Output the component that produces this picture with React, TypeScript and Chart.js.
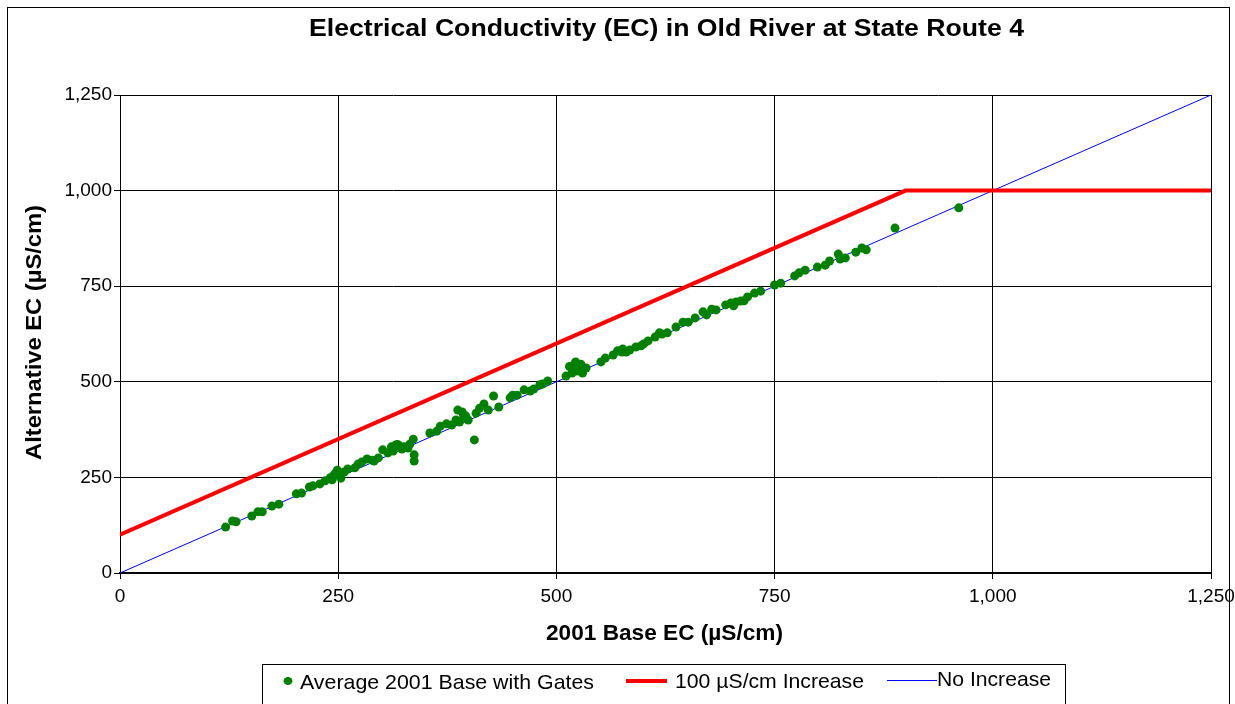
import React, { useEffect, useRef } from "react";
import { Chart, registerables } from "chart.js";
Chart.register(...registerables);

const chartTitle = "Electrical Conductivity (EC) in Old River at State Route 4";
const xAxisTitle = "2001 Base EC (µS/cm)";
const yAxisTitle = "Alternative EC (µS/cm)";
const seriesNames = ["Average 2001 Base with Gates", "100 µS/cm Increase", "No Increase"];

const baseEC = [
  121, 129, 133, 151, 158, 163, 174, 182, 202, 208, 217, 221, 229, 235, 241, 245, 249, 252, 257, 261,
  269, 273, 277, 283, 289, 291, 296, 301, 307, 313, 316, 320, 323, 325, 330, 332, 336, 337, 337, 355,
  363, 367, 374, 380, 385, 387, 392, 396, 399, 406, 408, 412, 417, 422, 428, 434, 447, 450, 455, 463,
  470, 474, 481, 484, 490, 511, 518, 520, 522, 525, 527, 530, 534, 551, 556, 565, 570, 576, 580, 584,
  591, 600, 605, 613, 618, 621, 627, 637, 645, 651, 659, 668, 672, 678, 683, 694, 700, 706, 711, 719,
  727, 734, 750, 757, 773, 778, 785, 799, 808, 813, 823, 825, 831, 843, 850, 855, 888, 961,
  247, 253, 243, 311, 318, 394, 389, 515, 524, 528, 575, 597, 703, 715
];
const altEC = [
  120, 136, 134, 149, 160, 160, 175, 180, 207, 209, 225, 228, 233, 241, 249, 256, 269, 259, 264, 272,
  275, 285, 290, 298, 295, 293, 301, 322, 314, 319, 335, 332, 324, 330, 327, 337, 350, 309, 293, 366,
  371, 384, 390, 387, 400, 426, 421, 411, 400, 348, 418, 431, 442, 426, 463, 434, 458, 465, 465, 479,
  476, 481, 492, 494, 502, 515, 523, 544, 552, 536, 531, 523, 536, 552, 562, 570, 581, 586, 578, 583,
  591, 599, 607, 617, 628, 625, 628, 643, 656, 656, 667, 683, 675, 690, 688, 701, 706, 709, 711, 722,
  732, 737, 753, 758, 777, 785, 792, 800, 805, 816, 834, 821, 824, 839, 850, 845, 902, 955,
  262, 248, 244, 330, 336, 410, 395, 540, 528, 546, 578, 594, 699, 712
];
const increaseX = [0, 900, 1250];
const increaseY = [100, 1000, 1000];
const noIncreaseX = [0, 1250];
const noIncreaseY = [0, 1250];
const axisMin = 0;
const axisMax = 1250;
const tickStep = 250;

function stretchText(
  ctx: CanvasRenderingContext2D,
  text: string,
  x: number,
  y: number,
  font: string,
  width: number,
  align: "center" | "left",
  rotate = false
) {
  ctx.save();
  ctx.font = font;
  const w = ctx.measureText(text).width;
  ctx.translate(x, y);
  if (rotate) ctx.rotate(-Math.PI / 2);
  ctx.scale(width / w, 1);
  ctx.textAlign = align;
  ctx.textBaseline = "middle";
  ctx.fillText(text, 0, 0);
  ctx.restore();
}

export default function App() {
  const ref = useRef<HTMLCanvasElement | null>(null);
  useEffect(() => {
    document.body.style.margin = "0";
    const canvas = ref.current!;
    const font = "Arial, 'Liberation Sans', sans-serif";
    const decor = {
      id: "decor",
      afterDraw(chart: any) {
        const ctx = chart.ctx as CanvasRenderingContext2D;
        ctx.save();
        ctx.strokeStyle = "#000";
        ctx.lineWidth = 1;
        ctx.strokeRect(7.5, 7.5, 1222, 720);
        ctx.fillStyle = "#000";
        stretchText(ctx, chartTitle, 666.5, 29, `bold 24px ${font}`, 715, "center");
        stretchText(ctx, xAxisTitle, 664.5, 634, `bold 22px ${font}`, 237, "center");
        stretchText(ctx, yAxisTitle, 35, 332.5, `bold 22px ${font}`, 255, "center", true);
        // legend
        ctx.strokeStyle = "#000";
        ctx.lineWidth = 1;
        ctx.strokeRect(262.5, 664.5, 803, 60);
        ctx.fillStyle = "#008000";
        ctx.beginPath();
        ctx.ellipse(288, 681, 4.5, 4, 0, 0, Math.PI * 2);
        ctx.fill();
        ctx.fillStyle = "#000";
        stretchText(ctx, seriesNames[0], 300, 683, `21px ${font}`, 294, "left");
        ctx.strokeStyle = "#ff0000";
        ctx.lineWidth = 4;
        ctx.beginPath();
        ctx.moveTo(626, 681);
        ctx.lineTo(667, 681);
        ctx.stroke();
        stretchText(ctx, seriesNames[1], 675, 682, `21px ${font}`, 189, "left");
        ctx.strokeStyle = "#0000ff";
        ctx.lineWidth = 1;
        ctx.beginPath();
        ctx.moveTo(887, 680.5);
        ctx.lineTo(937, 680.5);
        ctx.stroke();
        stretchText(ctx, seriesNames[2], 937, 680, `21px ${font}`, 114, "left");
        ctx.restore();
      },
    };
    const chart = new Chart(canvas, {
      type: "scatter",
      data: {
        datasets: [
          {
            label: seriesNames[0],
            data: baseEC.map((x, i) => ({ x, y: altEC[i] })),
            backgroundColor: "#008000",
            borderColor: "#008000",
            pointRadius: 4.5,
            pointBorderWidth: 0,
            showLine: false,
            order: 0,
          },
          {
            label: seriesNames[1],
            data: increaseX.map((x, i) => ({ x, y: increaseY[i] })),
            borderColor: "#ff0000",
            backgroundColor: "#ff0000",
            borderWidth: 4,
            pointRadius: 0,
            showLine: true,
            order: 1,
          },
          {
            label: seriesNames[2],
            data: noIncreaseX.map((x, i) => ({ x, y: noIncreaseY[i] })),
            borderColor: "#0000ff",
            backgroundColor: "#0000ff",
            borderWidth: 1,
            pointRadius: 0,
            showLine: true,
            order: 2,
          },
        ],
      },
      options: {
        responsive: false,
        animation: false,
        devicePixelRatio: 1,
        layout: { padding: { top: 95, left: 0, right: 24, bottom: 0 } },
        plugins: {
          legend: { display: false },
          title: { display: false },
          tooltip: { enabled: false },
        },
        scales: {
          x: {
            type: "linear",
            min: axisMin,
            max: axisMax,
            afterFit: (s: any) => {
              s.height = 131;
              s.paddingLeft = 0;
              s.paddingRight = 0;
            },
            ticks: {
              stepSize: tickStep,
              color: "#000",
              font: { family: font, size: 19 },
              padding: 6,
              maxRotation: 0,
              callback: (v: any) => Number(v).toLocaleString("en-US"),
            },
            grid: { color: "#000", lineWidth: 1, tickLength: 6, drawTicks: true },
            border: { color: "#000", width: 2 },
          },
          y: {
            type: "linear",
            min: axisMin,
            max: axisMax,
            afterFit: (s: any) => {
              s.width = 120;
              s.paddingTop = 0;
              s.paddingBottom = 0;
            },
            ticks: {
              stepSize: tickStep,
              color: "#000",
              font: { family: font, size: 19 },
              padding: 2,
              callback: (v: any) => Number(v).toLocaleString("en-US"),
            },
            grid: { color: "#000", lineWidth: 1, tickLength: 6, drawTicks: true },
            border: { color: "#000", width: 1 },
          },
        },
      },
      plugins: [decor],
    });
    return () => chart.destroy();
  }, []);
  return (
    <div style={{ width: 1235, height: 704, background: "#fff" }}>
      <canvas ref={ref} width={1235} height={704} style={{ display: "block" }} />
    </div>
  );
}
